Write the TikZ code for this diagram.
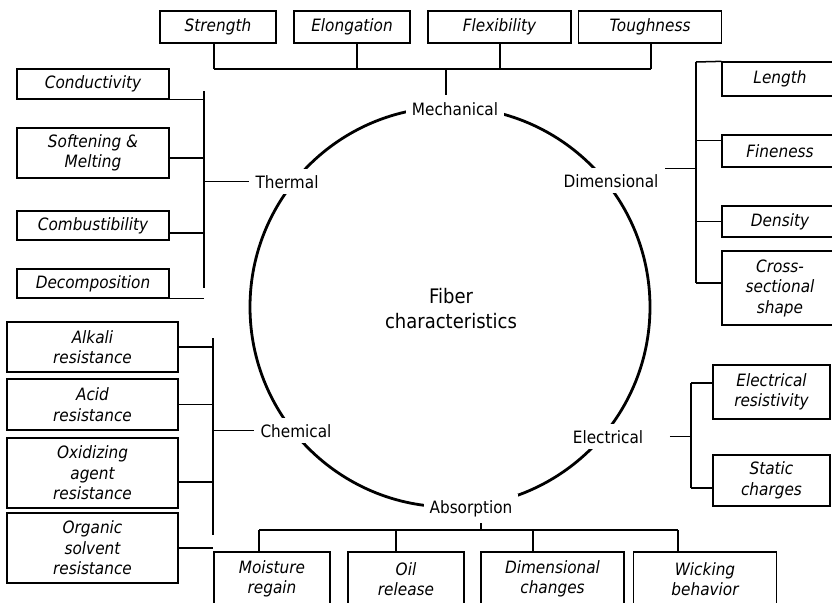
\documentclass[tikz,border=0pt]{standalone}
\usepackage{fontspec}
\setmainfont{DejaVu Sans}[FakeStretch=0.9]
\usepackage{tikz}

\begin{document}
\begin{tikzpicture}[x=1pt, y=-1pt, line width=1.5pt,
    box/.style 2 args={draw, line width=1.3pt, inner sep=0pt, align=center,
      minimum width=#1, minimum height=#2,
      font=\fontsize{17pt}{20.5pt}\selectfont\itshape},
    lab/.style={fill=white, inner sep=6pt, anchor=base,
      font=\fontsize{17pt}{20.5pt}\selectfont}]
  \useasboundingbox (0,0) rectangle (832,602);
  \clip (0,0) rectangle (832,602);

  \draw[line width=2.8pt] (450,307) circle [radius=200pt];
  \node[align=center, font=\fontsize{20pt}{25pt}\selectfont] (fiber) at (451,309) {Fiber\\characteristics};

  \node[lab] (mech)    at (455,115) {Mechanical};
  \node[lab] (thermal) at (287,188) {Thermal};
  \node[lab] (dimen)   at (611,187) {Dimensional};
  \node[lab] (elec)    at (608,443) {Electrical};
  \node[lab] (chem)    at (296,437) {Chemical};
  \node[lab] (absorb)  at (471,513) {Absorption};

  \node[box={116pt}{32pt}] (strength) at (218,27) {Strength};
  \node[box={116pt}{32pt}] (elong)    at (352,27) {Elongation};
  \node[box={143pt}{32pt}] (flex)     at (499.5,27) {Flexibility};
  \node[box={143pt}{32pt}] (tough)    at (650,27) {Toughness};

  \node[box={152pt}{30pt}] (cond)   at (93,84) {Conductivity};
  \node[box={152pt}{50pt}] (soft)   at (93,153) {Softening \&\\Melting};
  \node[box={152pt}{29pt}] (comb)   at (93,225.5) {Combustibility};
  \node[box={152pt}{29pt}] (decomp) at (93,283.5) {Decomposition};

  \node[box={116pt}{34pt}] (len)   at (780,79) {Length};
  \node[box={116pt}{32pt}] (fine)  at (780,151) {Fineness};
  \node[box={116pt}{31pt}] (dens)  at (780,221.5) {Density};
  \node[box={116pt}{74pt}] (cross) at (780,288) {Cross-\\sectional\\shape};

  \node[box={117pt}{54pt}] (elres) at (771.5,392) {Electrical\\resistivity};
  \node[box={117pt}{51pt}] (stat)  at (771.5,480.5) {Static\\charges};

  \node[box={171pt}{50pt}] (alk)  at (92.5,347) {Alkali\\resistance};
  \node[box={171pt}{51pt}] (acid) at (92.5,404.5) {Acid\\resistance};
  \node[box={171pt}{70pt}] (oxid) at (92.5,473) {Oxidizing\\agent\\resistance};
  \node[box={171pt}{70pt}] (org)  at (92.5,548) {Organic\\solvent\\resistance};

  \node[box={116pt}{54pt}] (moist) at (272,579) {Moisture\\regain};
  \node[box={116pt}{54pt}] (oil)   at (406,579) {Oil\\release};
  \node[box={143pt}{54pt}] (dimch) at (552.5,579) {Dimensional\\changes};
  \node[box={143pt}{54pt}] (wick)  at (705,579) {Wicking\\behavior};

  \coordinate (m1) at (214,69);
  \coordinate (m2) at (357,69);
  \coordinate (m3) at (500,69);
  \coordinate (m4) at (651,69);
  \coordinate (mb) at (446,69);
  \draw (m1) -- (m4);
  \draw (m1) -- (m1 |- strength.south);
  \draw (m2) -- (m2 |- elong.south);
  \draw (m3) -- (m3 |- flex.south);
  \draw (m4) -- (m4 |- tough.south);
  \draw (mb) -- (mb |- mech.north);

  \coordinate (t1) at (204,91);
  \coordinate (t2) at (204,288);
  \draw (t1) -- (t2);
  \draw (cond.south east) -- (cond.south east -| t1);
  \draw ([yshift=-5pt]soft.east) -- +(35,0);
  \draw ([yshift=-7.5pt]comb.east) -- +(35,0);
  \draw (decomp.south east) -- (decomp.south east -| t1);
  \draw (thermal.west) -- (thermal.west -| t1);

  \coordinate (d1) at (696,62);
  \coordinate (d2) at (696,283);
  \draw (d1) -- (d2);
  \draw (len.north west) -- (d1);
  \draw ([yshift=-6pt]fine.north west) -- +(-26,0);
  \draw (dens.west) -- (dens.west -| d1);
  \draw ([yshift=5pt]cross.west) -- (d2);
  \draw ([yshift=12pt]dimen.east) -- +(32,0);

  \coordinate (e1) at (691,383);
  \coordinate (e2) at (691,488);
  \draw (e1) -- (e2);
  \draw ([yshift=9pt]elres.west) -- (e1);
  \draw ([yshift=-7.5pt]stat.west) -- (e2);
  \draw ([xshift=20pt]elec.east) -- (elec.east -| e1);

  \coordinate (c1) at (213,338);
  \coordinate (c2) at (213,535);
  \draw (c1) -- (c2);
  \draw (alk.east) -- (alk.east -| c1);
  \draw (acid.east) -- (acid.east -| c1);
  \draw ([yshift=-9pt]oxid.east) -- +(35,0);
  \draw (org.east) -- (org.east -| c1);
  \draw (chem.west) -- (chem.west -| c1);

  \coordinate (a1) at (259,530);
  \coordinate (a2) at (396,530);
  \coordinate (a3) at (533,530);
  \coordinate (a4) at (678,530);
  \coordinate (ab) at (481,530);
  \draw (a1) -- (a4);
  \draw (a1) -- (a1 |- moist.north);
  \draw (a2) -- (a2 |- oil.north);
  \draw (a3) -- (a3 |- dimch.north);
  \draw (a4) -- (a4 |- wick.north);
  \draw (ab) -- (ab |- absorb.south);
\end{tikzpicture}
\end{document}
